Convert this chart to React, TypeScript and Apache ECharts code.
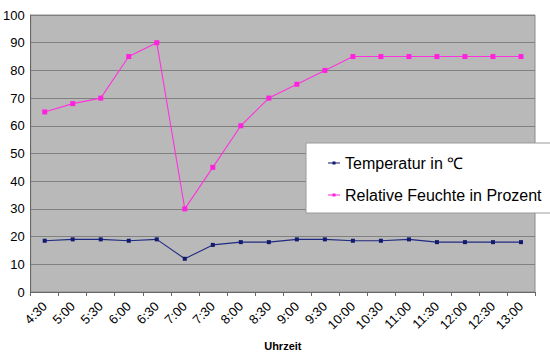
import React, { useEffect, useRef } from "react";
import * as echarts from "echarts";

const categories = ["4:30","5:00","5:30","6:00","6:30","7:00","7:30","8:00","8:30","9:00","9:30","10:00","10:30","11:00","11:30","12:00","12:30","13:00"];
const temperature = [18.5, 19, 19, 18.5, 19, 12, 17, 18, 18, 19, 19, 18.5, 18.5, 19, 18, 18, 18, 18];
const humidity = [65, 68, 70, 85, 90, 30, 45, 60, 70, 75, 80, 85, 85, 85, 85, 85, 85, 85];
const seriesNames = ["Temperatur in ℃", "Relative Feuchte in Prozent"];
const xAxisName = "Uhrzeit";

const FONT = "'Liberation Sans', Arial, Helvetica, sans-serif";
const LEGEND_ICON = "path://M0,2.5 L12,2.5 L12,3.5 L0,3.5 Z M4.5,1.5 L7.5,1.5 L7.5,4.5 L4.5,4.5 Z";

export default function App() {
  const ref = useRef<HTMLDivElement>(null);
  useEffect(() => {
    if (!ref.current) return;
    const chart = echarts.init(ref.current, undefined, { renderer: "svg" });
    chart.setOption({
      animation: false,
      backgroundColor: "#ffffff",
      textStyle: { fontFamily: FONT },
      grid: {
        left: 28, top: 15, right: 15, bottom: 59,
        show: true, backgroundColor: "#b9b9b9", borderColor: "#8a8a8a", borderWidth: 1,
      },
      legend: {
        orient: "vertical",
        left: 306, top: 143,
        backgroundColor: "#ffffff",
        borderColor: "#9a9a9a", borderWidth: 1,
        padding: [11, 40, 9, 22],
        icon: LEGEND_ICON,
        itemWidth: 12, itemHeight: 6, itemGap: 14,
        textStyle: { fontSize: 16, color: "#000", fontFamily: FONT, lineHeight: 18 },
        data: seriesNames,
      },
      xAxis: {
        type: "category",
        data: categories,
        boundaryGap: true,
        name: xAxisName,
        nameLocation: "middle",
        nameGap: 48,
        nameTextStyle: { fontWeight: "bold", fontSize: 11, color: "#000", fontFamily: FONT },
        axisLine: { lineStyle: { color: "#666", width: 1 } },
        axisTick: { show: true, alignWithLabel: false, length: 4, lineStyle: { color: "#666" } },
        axisLabel: { rotate: 45, fontSize: 13, color: "#000", margin: 12, interval: 0, fontFamily: FONT },
        splitLine: { show: false },
      },
      yAxis: {
        type: "value",
        min: 0, max: 100, interval: 10,
        axisLine: { show: true, lineStyle: { color: "#666", width: 1 } },
        axisTick: { show: false },
        axisLabel: { fontSize: 13, color: "#000", margin: 6, fontFamily: FONT },
        splitLine: { show: true, lineStyle: { color: "#808080", width: 1 } },
      },
      series: [
        {
          name: seriesNames[0],
          type: "line",
          data: temperature,
          symbol: "rect",
          symbolSize: 4,
          lineStyle: { color: "#1f2a80", width: 1.1 },
          itemStyle: { color: "#111a6e" },
        },
        {
          name: seriesNames[1],
          type: "line",
          data: humidity,
          symbol: "rect",
          symbolSize: 5,
          lineStyle: { color: "#ff33dd", width: 1.1 },
          itemStyle: { color: "#ff22dd" },
        },
      ],
    });
    return () => chart.dispose();
  }, []);
  return <div ref={ref} style={{ width: 550, height: 356, position: "absolute", left: 0, top: 0 }} />;
}
